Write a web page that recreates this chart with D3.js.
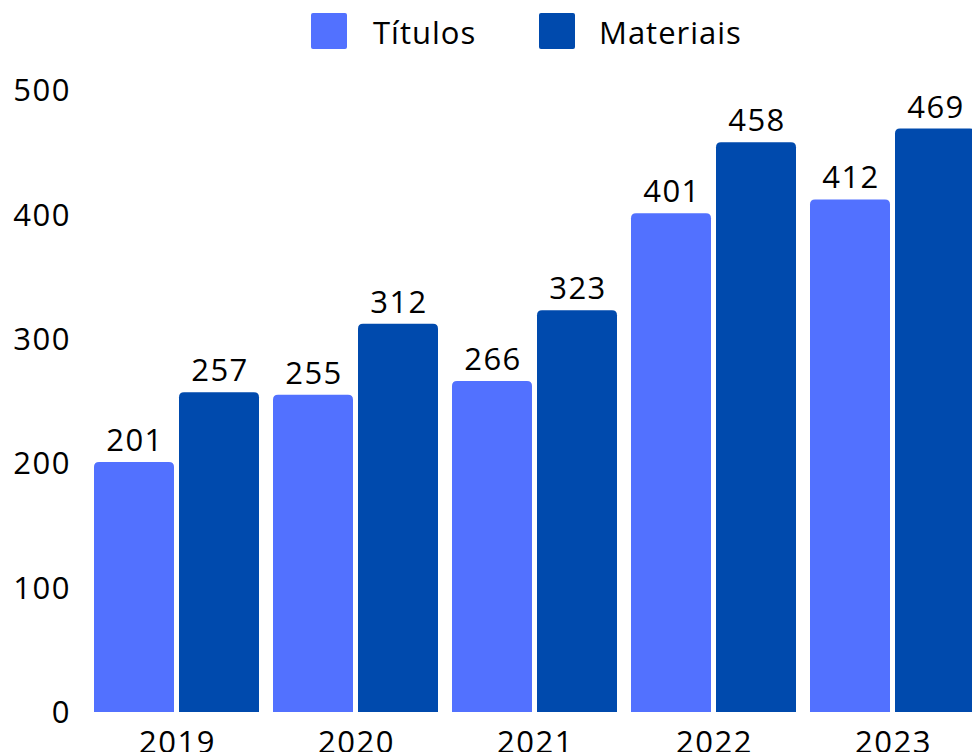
<!DOCTYPE html>
<html>
<head>
<meta charset="utf-8">
<script src="https://cdn.jsdelivr.net/npm/d3@7"></script>
<style>
  body { margin: 0; background: #fff; }
  svg { display: block; }
  text { font-family: "Open Sans", sans-serif; fill: #000; }
</style>
</head>
<body>
<div id="vis"></div>
<script>
const years = ["2019", "2020", "2021", "2022", "2023"];
const seriesNames = ["Títulos", "Materiais"];
const titulos = [201, 255, 266, 401, 412];
const materiais = [257, 312, 323, 458, 469];
const yTicks = [0, 100, 200, 300, 400, 500];
const colors = ["#5271ff", "#004aad"];

const width = 972, height = 752;
const baseY = 712, topY = 90;

const rows = years.map((year, i) => ({year, values: [titulos[i], materiais[i]]}));

const svg = d3.select("#vis").append("svg")
  .attr("width", width)
  .attr("height", height);

const x0 = d3.scaleBand().domain(years).range([94, 975]).paddingInner(14 / 179).paddingOuter(0);
const x1 = d3.scaleBand().domain(seriesNames).range([0, x0.bandwidth()]).paddingInner(5 / 85);
const y = d3.scaleLinear().domain([0, 500]).range([baseY, topY]);

// bar with rounded top corners
const barPath = (x, w, yTop, r) => {
  const h = baseY - yTop;
  r = Math.min(r, h, w / 2);
  return `M${x},${baseY}V${yTop + r}Q${x},${yTop} ${x + r},${yTop}H${x + w - r}Q${x + w},${yTop} ${x + w},${yTop + r}V${baseY}Z`;
};

// y axis labels (letter-spacing adds trailing space, so shift right a bit)
svg.append("g").selectAll("text").data(yTicks).enter()
  .append("text")
  .attr("x", 71)
  .attr("y", d => y(d))
  .attr("dy", "0.36em")
  .attr("text-anchor", "end")
  .style("font-size", "31px")
  .style("letter-spacing", "1.5px")
  .text(d => d);

const groups = svg.append("g").selectAll("g").data(rows).enter()
  .append("g")
  .attr("transform", d => `translate(${x0(d.year)},0)`);

const cells = groups.selectAll("g").data(d => d.values.map((v, k) => ({name: seriesNames[k], value: v, k}))).enter()
  .append("g");

cells.append("path")
  .attr("d", d => barPath(x1(d.name), x1.bandwidth(), y(d.value), 5))
  .attr("fill", d => colors[d.k]);

cells.append("text")
  .attr("x", d => x1(d.name) + x1.bandwidth() / 2 + 1)
  .attr("y", d => y(d.value) - 11)
  .attr("text-anchor", "middle")
  .style("font-size", "31px")
  .style("letter-spacing", "1.5px")
  .text(d => d.value);

// x labels (cut by the bottom edge, as in the original)
svg.append("g").selectAll("text").data(years).enter()
  .append("text")
  .attr("x", d => x0(d) + x0.bandwidth() / 2 + 1)
  .attr("y", 753)
  .attr("text-anchor", "middle")
  .style("font-size", "31px")
  .style("letter-spacing", "1.5px")
  .text(d => d);

// legend
const legendX = [311, 539];
const legend = svg.append("g").selectAll("g").data(seriesNames).enter()
  .append("g")
  .attr("transform", (d, i) => `translate(${legendX[i]},13)`);

legend.append("rect")
  .attr("width", 36)
  .attr("height", 36)
  .attr("rx", 2)
  .attr("fill", (d, i) => colors[i]);

legend.append("text")
  .attr("x", d => d === "Títulos" ? 62 : 60)
  .attr("y", 31)
  .style("font-size", "31px")
  .style("letter-spacing", "1px")
  .text(d => d);
</script>
</body>
</html>
